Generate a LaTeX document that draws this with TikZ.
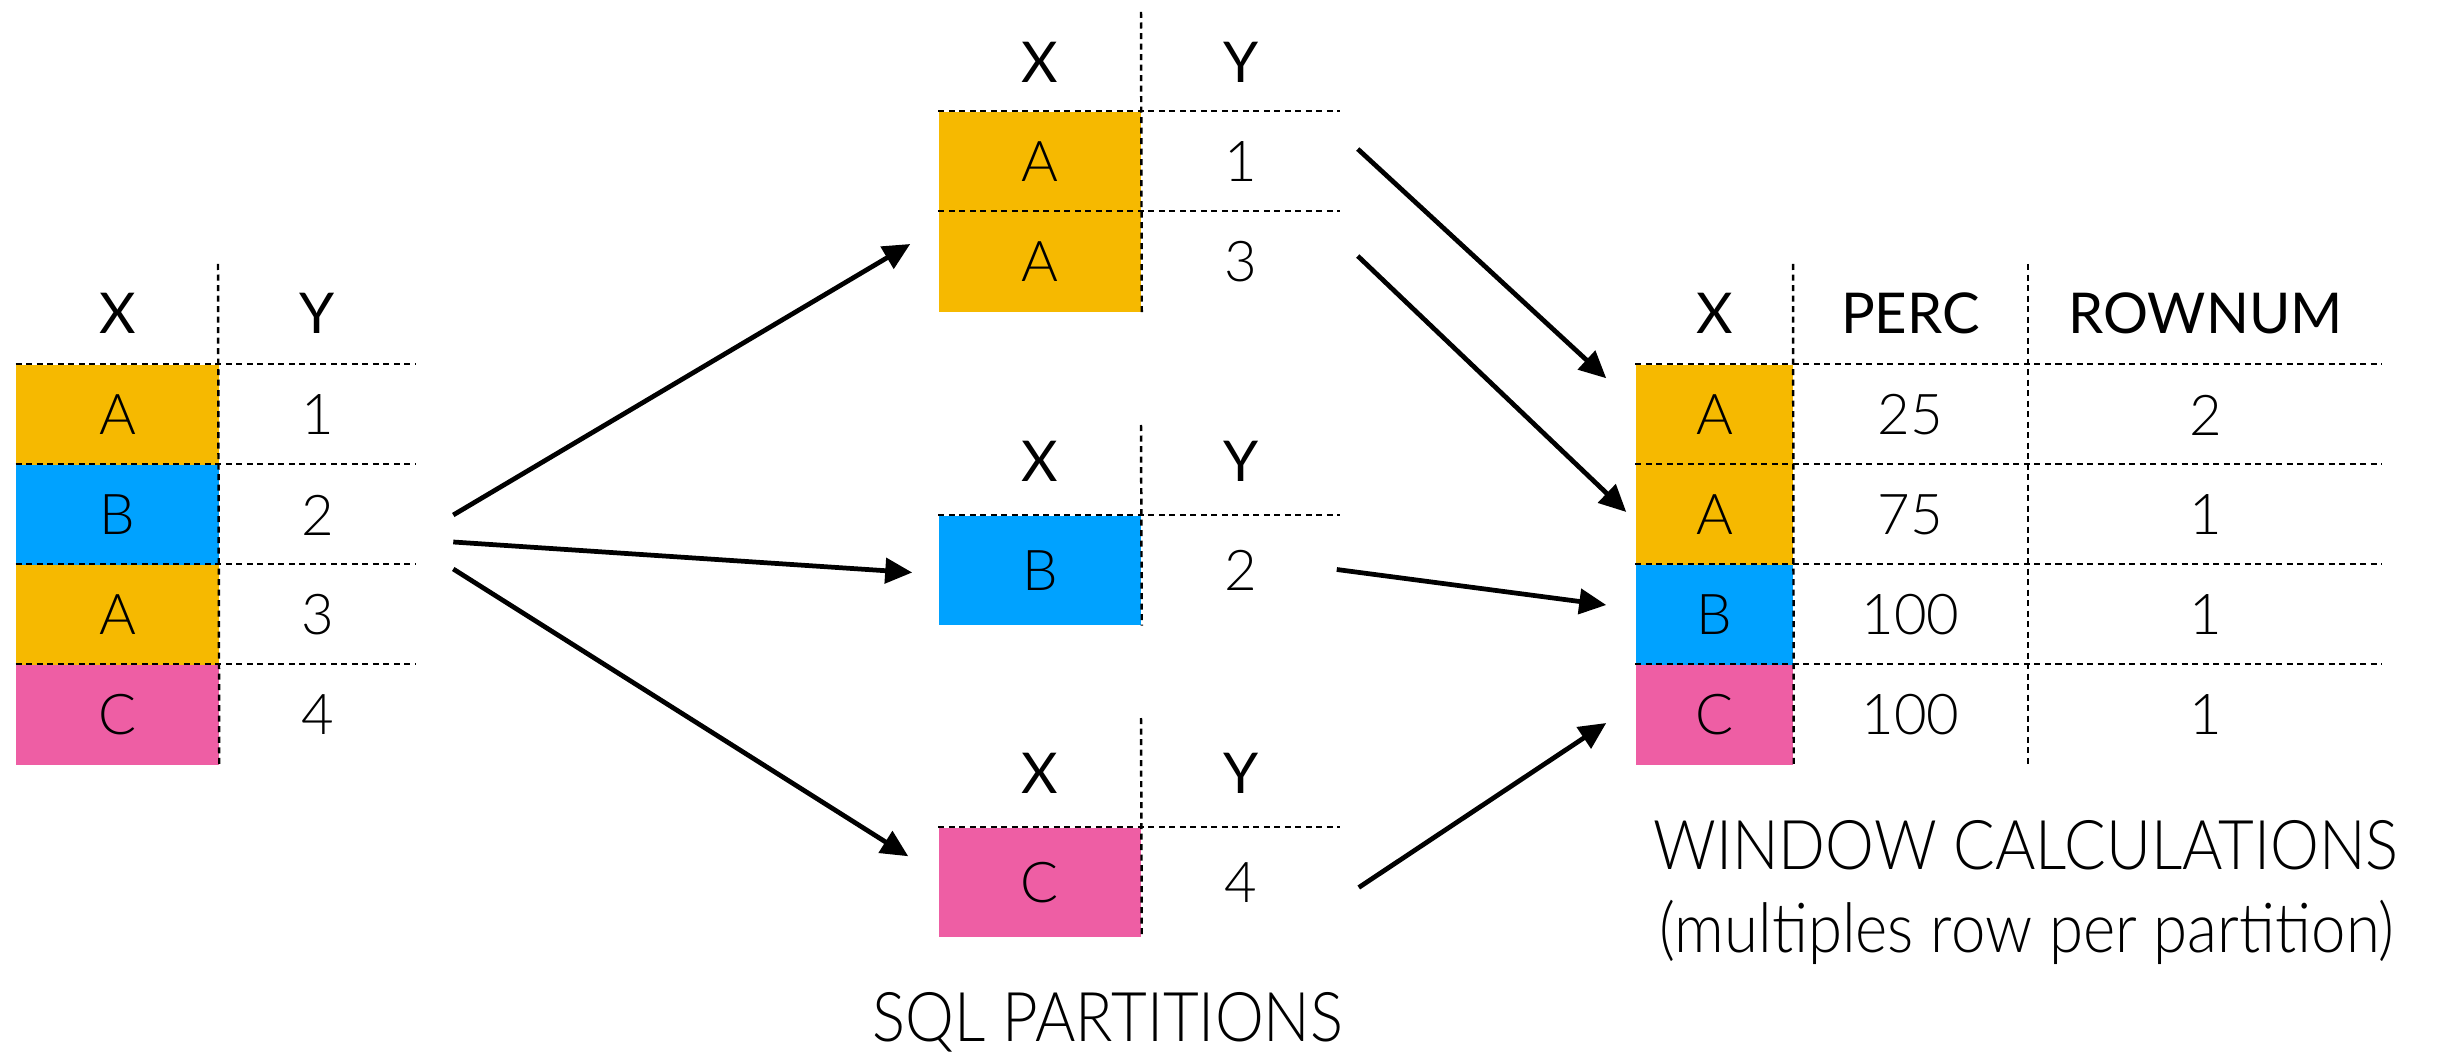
\documentclass[tikz,border=0pt]{standalone}
\usepackage{fontspec}
\setmainfont{Lato Light}[BoldFont=Lato Regular]
\newfontfamily\captionfont{Lato Light}[FakeStretch=0.9]
\usetikzlibrary{arrows.meta,calc}
\definecolor{part-a}{RGB}{246,185,0}
\definecolor{part-b}{RGB}{0,162,255}
\definecolor{part-c}{RGB}{238,94,164}
\tikzset{
    key-cell/.style = {rectangle, minimum width=2.02cm, minimum height=1cm, inner sep=0pt, font=\fontsize{16}{19}\selectfont},
    val-cell/.style = {rectangle, inner sep=0pt, font=\fontsize{16}{19}\selectfont},
    col-head/.style = {inner sep=0pt, font=\fontsize{16}{19}\selectfont\bfseries},
    grid-line/.style = {line width=0.7pt, dash pattern=on 0.06cm off 0.045cm},
    flow/.style = {line width=1.35pt, -{Triangle[length=0.27cm, width=0.25cm]}},
    table-caption/.style = {inner sep=0pt, font=\captionfont\fontsize{19.5}{24}\selectfont},
}
\begin{document}
\begin{tikzpicture}[x=0.01cm, y=-0.01cm]
\useasboundingbox (0,0) rectangle (2439,1055);

\node [col-head] (src-hx) at (117.5,313) {X};
\node [col-head] (src-hy) at (317.5,313) {Y};
\foreach \c/\k/\v [count=\i] in {part-a/A/1, part-b/B/2, part-a/A/3, part-c/C/4} {
    \node [key-cell, fill=\c] (src-x\i) at (117.5, 315+100*\i) {\k};
    \node [val-cell] (src-y\i) at (317.5, 315+100*\i) {\v};
    \draw [grid-line] (src-x\i.north west) -- ++(400,0);
}
\draw [grid-line] (218,264) -- (src-x4.south east);

\node [col-head] (p1-hx) at (1040,62) {X};
\node [col-head] (p1-hy) at (1241,62) {Y};
\foreach \k/\v [count=\i] in {A/1, A/3} {
    \node [key-cell, fill=part-a] (p1-x\i) at (1040, 62+100*\i) {\k};
    \node [val-cell] (p1-y\i) at (1241, 62+100*\i) {\v};
    \draw [grid-line] (p1-x\i.north west) -- ++(402,0);
}
\draw [grid-line] (1141,12) -- (p1-x2.south east);

\node [col-head] (p2-hx) at (1040,461) {X};
\node [col-head] (p2-hy) at (1241,461) {Y};
\node [key-cell, fill=part-b, minimum height=1.09cm] (p2-x1) at (1040,570.5) {B};
\node [val-cell] (p2-y1) at (1241,570.5) {2};
\draw [grid-line] (p2-x1.north west) -- ++(402,0);
\draw [grid-line] (1141,425) -- (p2-x1.south east);

\node [col-head] (p3-hx) at (1040,773) {X};
\node [col-head] (p3-hy) at (1241,773) {Y};
\node [key-cell, fill=part-c, minimum height=1.09cm] (p3-x1) at (1040,882.5) {C};
\node [val-cell] (p3-y1) at (1241,882.5) {4};
\draw [grid-line] (p3-x1.north west) -- ++(402,0);
\draw [grid-line] (1141,718) -- (p3-x1.south east);

\node [col-head] (out-hx) at (1714.5,313) {X};
\node [col-head] (out-hp) at (1910.5,313) {PERC};
\node [col-head] (out-hr) at (2205.5,313) {ROWNUM};
\foreach \c/\k/\p/\r [count=\i] in {part-a/A/25/2, part-a/A/75/1, part-b/B/100/1, part-c/C/100/1} {
    \node [key-cell, fill=\c, minimum width=1.57cm] (out-x\i) at (1714.5, 315+100*\i) {\k};
    \node [val-cell] (out-p\i) at (1910.5, 315+100*\i) {\p};
    \node [val-cell] (out-r\i) at (2205.5, 315+100*\i) {\r};
    \draw [grid-line] (out-x\i.north west) -- ++(747,0);
}
\draw [grid-line] (1793,264) -- (out-x4.south east);
\draw [grid-line] (2028,264) -- (2028,765);

\node [table-caption] (part-label) at (1108,1022) {SQL PARTITIONS};
\node [table-caption] (win-label) at (2026,845) {WINDOW CALCULATIONS};
\node [table-caption] (win-note) at (2027,932) {(multiples row per partition)};

\coordinate (fan) at ($(src-x2.east)+(234,0)$);
\coordinate (to-p1) at ($(p1-x2.west)+(-28,-18)$);
\coordinate (to-p2) at ($(p2-x1.west)+(-26,2)$);
\coordinate (to-p3) at ($(p3-x1.north west)+(-30,29)$);
\coordinate (from-p1a) at ($(p1-x1.east)+(216,-13)$);
\coordinate (from-p1b) at ($(p1-x2.east)+(216,-6)$);
\coordinate (from-p2) at ($(p2-x1.east)+(195,-1)$);
\coordinate (from-p3) at ($(p3-x1.east)+(217,5)$);
\coordinate (to-out1) at ($(out-x1.north west)+(-29,14)$);
\coordinate (to-out2) at ($(out-x2.west)+(-9,-3)$);
\coordinate (to-out3) at ($(out-x3.west)+(-29,-10)$);
\coordinate (to-out4) at ($(out-x4.west)+(-29,8)$);

\draw [flow] (fan) -- (to-p1);
\draw [flow] ($(fan)+(0,27)$) -- (to-p2);
\draw [flow] ($(fan)+(0,54)$) -- (to-p3);
\draw [flow] (from-p1a) -- (to-out1);
\draw [flow] (from-p1b) -- (to-out2);
\draw [flow] (from-p2) -- (to-out3);
\draw [flow] (from-p3) -- (to-out4);
\end{tikzpicture}
\end{document}
